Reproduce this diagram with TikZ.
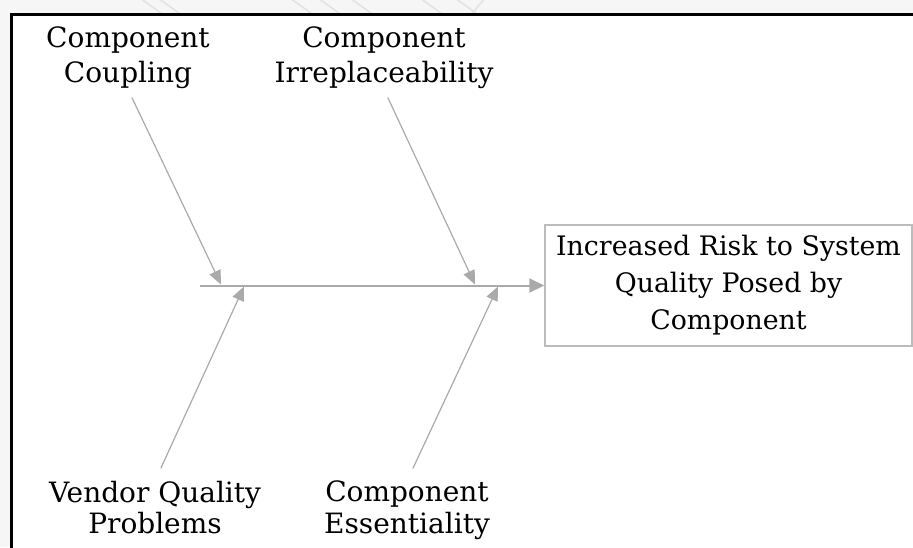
\documentclass[tikz,border=0pt]{standalone}
\usepackage{fontspec}
\setmainfont{DejaVu Serif}
\usetikzlibrary{arrows.meta}
\definecolor{bonegray}{RGB}{170,170,170}
\definecolor{boxgray}{RGB}{188,188,188}
\definecolor{paper}{RGB}{246,246,246}
\definecolor{streak}{RGB}{226,226,226}
\begin{document}
\begin{tikzpicture}[x=1pt,y=-1pt,
  cause/.style={font=\fontsize{28}{35}\selectfont, align=center, inner sep=0pt},
  causelow/.style={cause, font=\fontsize{28}{31.5}\selectfont},
  bone/.style={draw=bonegray, line width=1.2pt, -{Triangle[length=14pt,width=12pt]}},
  spine/.style={draw=bonegray, line width=2pt, -{Triangle[length=15pt,width=14pt]}},
  effectbox/.style={draw=boxgray, line width=1.5pt, minimum width=367pt,
    minimum height=121pt, inner sep=0pt, align=center,
    font=\fontsize{26.8}{37}\selectfont}
]
\useasboundingbox (0,0) rectangle (913,547);
% page background and faint streaks above the frame
\fill[paper] (0,0) rectangle (913,547);
\begin{scope}
  \clip (0,0) rectangle (913,13);
  \foreach \x in {140,158,290,318,350,420,455} {
    \draw[streak, line width=1.5pt] (\x,-2) -- (\x+25,16);
  }
  \draw[streak, line width=1.5pt] (470,16) -- (485,-2);
\end{scope}
% framed drawing area
\fill[white] (11,14) rectangle (913,547);
\draw[line width=3pt] (11,548) -- (11,14) -- (914,14);

% effect
\node[effectbox] (effect) at (728.5,285.5)
  {Increased Risk to System\\Quality Posed by\\Component};

% causes
\node[cause, anchor=north] (coupling) at (128,27) {Component\\Coupling};
\node[cause, anchor=north] (irrepl) at (384,27) {Component\\Irreplaceability};
\node[causelow, anchor=north] (vendor) at (155,481) {Vendor Quality\\Problems};
\node[causelow, anchor=north] (essent) at (407,481) {Component\\Essentiality};

% spine
\coordinate (tail) at (200,285.5);
\draw[spine] (tail) -- (effect.west);

% bones
\coordinate (tipA) at (221,284.5);
\coordinate (tipB) at (475,284.5);
\coordinate (tipC) at (244,286.5);
\coordinate (tipD) at (498,286.5);
\draw[bone, shorten <=9pt] (coupling.south) -- (tipA);
\draw[bone, shorten <=9pt] (irrepl.south) -- (tipB);
\draw[bone, shorten <=14pt] (vendor.north) -- (tipC);
\draw[bone, shorten <=14pt] (essent.north) -- (tipD);
\end{tikzpicture}
\end{document}
